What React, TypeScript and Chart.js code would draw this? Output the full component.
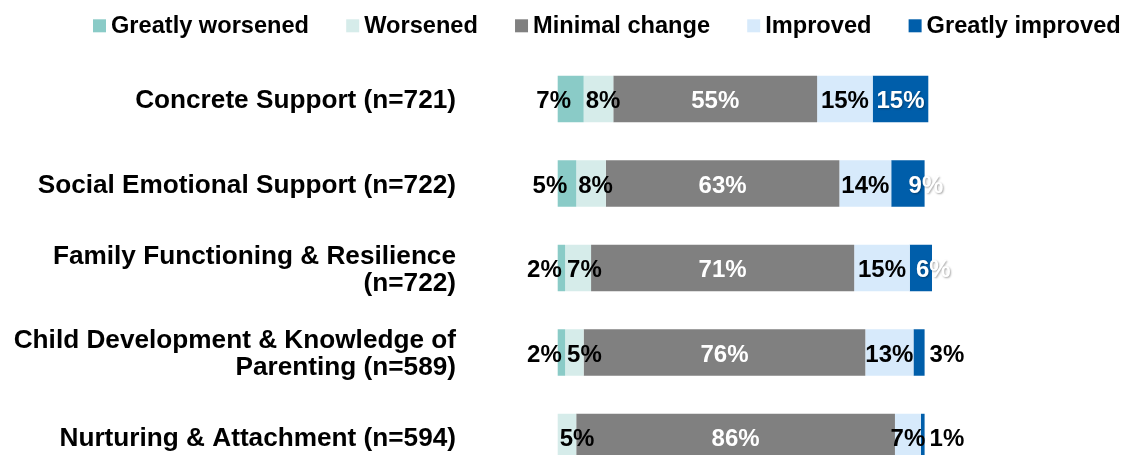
import React, { useEffect, useRef } from "react";
import { Chart, registerables } from "chart.js";

Chart.register(...registerables);

const categories: (string | string[])[] = [
  "Concrete Support (n=721)",
  "Social Emotional Support (n=722)",
  ["Family Functioning & Resilience", "(n=722)"],
  ["Child Development & Knowledge of", "Parenting (n=589)"],
  "Nurturing & Attachment (n=594)",
];
const seriesNames = ["Greatly worsened", "Worsened", "Minimal change", "Improved", "Greatly improved"];
const greatlyWorsened = [7, 5, 2, 2, 0];
const worsened = [8, 8, 7, 5, 5];
const minimalChange = [55, 63, 71, 76, 86];
const improved = [15, 14, 15, 13, 7];
const greatlyImproved = [15, 9, 6, 3, 1];
const seriesColors = ["#8ACBC7", "#D6ECEA", "#808080", "#D7EAFB", "#005EAA"];

const FONT = "'Liberation Sans', Arial, sans-serif";

const legendPlugin = {
  id: "customLegend",
  afterDraw(chart: any) {
    const ctx = chart.ctx;
    ctx.save();
    ctx.font = `bold 23.6px ${FONT}`;
    ctx.textAlign = "left";
    ctx.textBaseline = "alphabetic";
    let x = 93;
    seriesNames.forEach((name, i) => {
      ctx.fillStyle = seriesColors[i];
      ctx.fillRect(x, 19.3, 13, 13);
      ctx.fillStyle = "#000";
      const tx = x + 18;
      ctx.fillText(name, tx, 33);
      x = tx + ctx.measureText(name).width + 37.2;
    });
    ctx.restore();
  },
};

const labelPlugin = {
  id: "segmentLabels",
  afterDatasetsDraw(chart: any) {
    const ctx = chart.ctx;
    ctx.save();
    ctx.font = `bold 24px ${FONT}`;
    ctx.textBaseline = "alphabetic";
    chart.data.datasets.forEach((ds: any, di: number) => {
      const meta = chart.getDatasetMeta(di);
      meta.data.forEach((bar: any, i: number) => {
        const v = ds.data[i];
        if (!v) return;
        const p = bar.getProps(["x", "y", "base"], true);
        const start = Math.min(p.x, p.base);
        const end = Math.max(p.x, p.base);
        const center = (start + end) / 2;
        const ty = p.y + 9;
        const text = `${v}%`;
        let color = "#000";
        let align: CanvasTextAlign = "center";
        let tx = center;
        let shadow = false;
        if (di === 0) {
          tx = center - 17;
        } else if (di === 1) {
          align = "left";
          tx = start + 2;
        } else if (di === 2) {
          color = "#fff";
        } else if (di === 3) {
          // centered, black
        } else if (di === 4) {
          if (v >= 12) {
            color = "#fff";
            shadow = true;
          } else if (v >= 5) {
            color = "#fff";
            shadow = true;
            align = "left";
            tx = Math.max(start + 1, end - 16);
          } else {
            align = "left";
            tx = end + 5;
          }
        }
        ctx.save();
        if (shadow) {
          ctx.shadowColor = "rgba(0,0,0,0.35)";
          ctx.shadowBlur = 2;
          ctx.shadowOffsetX = 1;
          ctx.shadowOffsetY = 1;
        }
        ctx.fillStyle = color;
        ctx.textAlign = align;
        ctx.fillText(text, tx, ty);
        ctx.restore();
      });
    });
    ctx.restore();
  },
};

export default function App() {
  const canvasRef = useRef<HTMLCanvasElement | null>(null);

  useEffect(() => {
    if (!canvasRef.current) return;
    const seriesValues = [greatlyWorsened, worsened, minimalChange, improved, greatlyImproved];
    const chart = new Chart(canvasRef.current, {
      type: "bar",
      data: {
        labels: categories,
        datasets: seriesNames.map((name, i) => ({
          label: name,
          data: seriesValues[i],
          backgroundColor: seriesColors[i],
          borderWidth: 0,
          categoryPercentage: 1,
          barPercentage: 0.55,
          clip: false as any,
        })),
      },
      options: {
        indexAxis: "y",
        responsive: false,
        animation: false,
        devicePixelRatio: 1,
        layout: { padding: { left: 0, top: 56.75, right: 199.7, bottom: 0.75 } },
        plugins: {
          legend: { display: false },
          tooltip: { enabled: false },
          title: { display: false },
        },
        scales: {
          x: {
            stacked: true,
            min: 0,
            max: 100,
            display: false,
          },
          y: {
            stacked: true,
            grid: { display: false, drawTicks: false },
            border: { display: false },
            afterFit(scale: any) {
              scale.width = 557.7;
              scale.paddingTop = 0;
              scale.paddingBottom = 0;
            },
            ticks: {
              color: "#000",
              padding: 101.7,
              labelOffset: 2,
              font: { family: FONT, size: 26.2, weight: "bold", lineHeight: 1.02 },
            },
          },
        },
      },
      plugins: [legendPlugin, labelPlugin],
    } as any);
    return () => chart.destroy();
  }, []);

  return (
    <div
      style={{
        position: "fixed",
        left: 0,
        top: 0,
        width: 1128,
        height: 455,
        overflow: "hidden",
        background: "#fff",
      }}
    >
      <canvas ref={canvasRef} width={1128} height={480} style={{ display: "block", width: 1128, height: 480 }} />
    </div>
  );
}
